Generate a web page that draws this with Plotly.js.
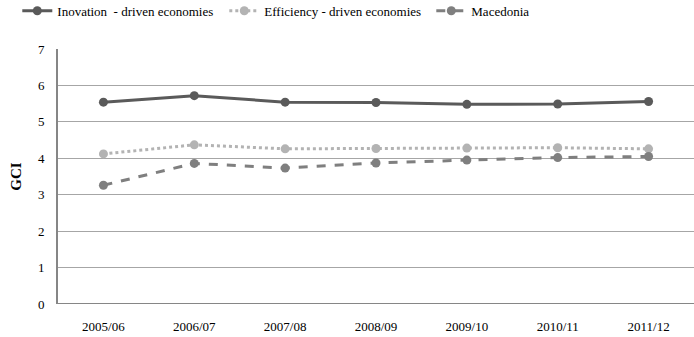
<!DOCTYPE html>
<html>
<head>
<meta charset="utf-8">
<script src="https://cdn.plot.ly/plotly-3.0.1.min.js"></script>
<style>html,body{margin:0;padding:0;background:#fff;}#chart{width:694px;height:337px;}</style>
</head>
<body>
<div id="chart"></div>
<script>
var years = ["2005/06", "2006/07", "2007/08", "2008/09", "2009/10", "2010/11", "2011/12"];
var innovation = [5.54, 5.72, 5.54, 5.53, 5.48, 5.49, 5.56];
var efficiency = [4.12, 4.37, 4.26, 4.27, 4.28, 4.29, 4.26];
var macedonia = [3.26, 3.86, 3.73, 3.87, 3.95, 4.02, 4.05];
var yTicks = [0, 1, 2, 3, 4, 5, 6, 7];

var FONT = "Liberation Serif";

var traces = [
  {x: years, y: innovation, name: "Inovation  - driven economies", type: "scatter", mode: "lines+markers",
   line: {color: "#5a5a5a", width: 3}, marker: {color: "#5a5a5a", size: 9}},
  {x: years, y: efficiency, name: "Efficiency - driven economies", type: "scatter", mode: "lines+markers",
   line: {color: "#b3b3b3", width: 3, dash: "dot"}, marker: {color: "#b3b3b3", size: 9}},
  {x: years, y: macedonia, name: "Macedonia", type: "scatter", mode: "lines+markers",
   line: {color: "#7f7f7f", width: 3, dash: "dash"}, marker: {color: "#7f7f7f", size: 9}}
];

var layout = {
  width: 694, height: 337,
  margin: {l: 58, r: 0, t: 49, b: 33, autoexpand: false},
  paper_bgcolor: "#fff", plot_bgcolor: "#fff",
  font: {family: FONT, size: 12, color: "#000"},
  showlegend: true,
  legend: {orientation: "h", x: -0.064, xanchor: "left", y: 1.15, yanchor: "middle",
           font: {family: FONT, size: 13, color: "#000"}, entrywidth: 162, entrywidthmode: "pixels"},
  xaxis: {type: "category", range: [-0.5, 6.5], showgrid: false, zeroline: false,
          showline: false, ticks: "outside", ticklen: 10, tickcolor: "rgba(0,0,0,0)",
          tickfont: {family: FONT, size: 13, color: "#000"}},
  yaxis: {range: [0, 7], tickvals: yTicks, showgrid: true, gridcolor: "#a6a6a6", gridwidth: 1,
          zeroline: false, showline: true, linecolor: "#868686", linewidth: 2,
          ticks: "outside", ticklen: 9, tickcolor: "rgba(0,0,0,0)",
          tickfont: {family: FONT, size: 13, color: "#000"},
          title: {text: "<b>GCI</b>", font: {family: FONT, size: 15, color: "#000"}, standoff: 13}},
  shapes: [
    {type: "line", xref: "paper", yref: "y", x0: 0, x1: 1, y0: 0, y1: 0, line: {color: "#868686", width: 2}}
  ]
};

Plotly.newPlot("chart", traces, layout, {displayModeBar: false, staticPlot: true});
</script>
</body>
</html>
